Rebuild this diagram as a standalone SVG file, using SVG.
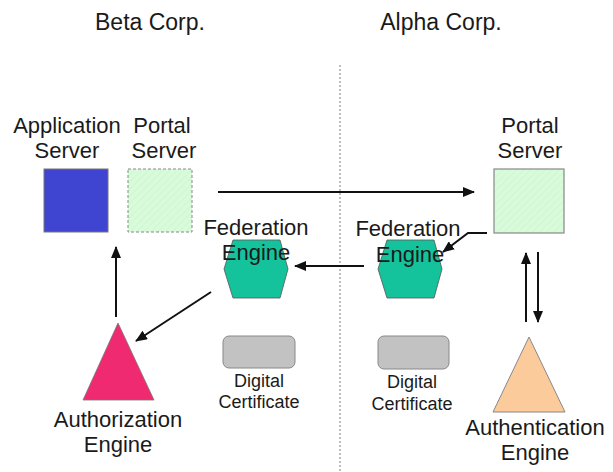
<svg xmlns="http://www.w3.org/2000/svg" width="613" height="472" viewBox="0 0 613 472">
<defs>
<style>
text{font-family:"Liberation Sans",Arial,sans-serif;fill:#1a1a1a;text-anchor:middle}
.lbl{font-size:22px}
.ttl{font-size:23px}
.sm{font-size:18px}
.conn{stroke:#111;stroke-width:2;fill:none;marker-end:url(#ah)}
</style>
<marker id="ah" viewBox="0 0 12 10" refX="11" refY="5" markerWidth="12" markerHeight="10" markerUnits="userSpaceOnUse" orient="auto">
<path d="M0,0 L12,5 L0,10 Z" fill="#111"/>
</marker>
<pattern id="hatch" width="5" height="5" patternUnits="userSpaceOnUse" patternTransform="rotate(45)">
<rect width="5" height="5" fill="#d8fbda"/>
<line x1="0" y1="0" x2="0" y2="5" stroke="#cbf1ce" stroke-width="1"/>
</pattern>
</defs>
<rect width="613" height="472" fill="#fff"/>
<line x1="340" y1="65" x2="340" y2="472" stroke="#aaa" stroke-width="1.5" stroke-dasharray="2,2"/>
<g id="beta-title"><text class="ttl" x="150" y="30">Beta Corp.</text></g>
<g id="alpha-title"><text class="ttl" x="441" y="30">Alpha Corp.</text></g>
<g id="app-server">
<text class="lbl" x="67" y="133">Application</text>
<text class="lbl" x="67" y="158">Server</text>
<rect x="44" y="169" width="64" height="63" fill="#3f45d0" stroke="#777" stroke-width="1"/>
</g>
<g id="portal-beta">
<text class="lbl" x="162" y="133">Portal</text>
<text class="lbl" x="164" y="158">Server</text>
<rect x="128" y="169" width="64" height="63" fill="url(#hatch)" stroke="#888" stroke-width="1" stroke-dasharray="3,2"/>
</g>
<g id="portal-alpha">
<text class="lbl" x="530" y="133">Portal</text>
<text class="lbl" x="530" y="158">Server</text>
<rect x="494" y="169" width="70" height="64" fill="url(#hatch)" stroke="#888" stroke-width="1.2"/>
</g>
<g id="fed-beta">
<polygon points="233,240 280,240 288,269 280,298 233,298 224,269" fill="#14c39c" stroke="#555" stroke-width="0.8"/>
<text class="lbl" x="256" y="235">Federation</text>
<text class="lbl" x="256" y="260">Engine</text>
</g>
<g id="fed-alpha">
<polygon points="387,240 434,240 442,269 434,298 387,298 378,269" fill="#14c39c" stroke="#555" stroke-width="0.8"/>
<text class="lbl" x="408" y="236">Federation</text>
<text class="lbl" x="410" y="262">Engine</text>
</g>
<g id="authz">
<polygon points="118,323 154,400 83,400" fill="#f02a70" stroke="#777" stroke-width="0.8"/>
<text class="lbl" x="118" y="427">Authorization</text>
<text class="lbl" x="118" y="452">Engine</text>
</g>
<g id="authn">
<polygon points="529,337 565,412 493,412" fill="#fccb9c" stroke="#888" stroke-width="1"/>
<text class="lbl" x="535" y="435">Authentication</text>
<text class="lbl" x="535" y="460">Engine</text>
</g>
<g id="cert-beta">
<rect x="223" y="336" width="72" height="32" rx="6" fill="#c2c2c2" stroke="#888" stroke-width="1"/>
<text class="sm" x="259" y="387">Digital</text>
<text class="sm" x="259" y="408">Certificate</text>
</g>
<g id="cert-alpha">
<rect x="378" y="336" width="71" height="33" rx="6" fill="#c2c2c2" stroke="#888" stroke-width="1"/>
<text class="sm" x="412" y="388">Digital</text>
<text class="sm" x="412" y="410">Certificate</text>
</g>
<g id="connectors">
<line class="conn" x1="218" y1="192" x2="474" y2="192"/>
<line class="conn" x1="364" y1="266" x2="295" y2="266"/>
<polyline class="conn" points="487,233 468,233 443,252"/>
<line class="conn" x1="526" y1="322" x2="526" y2="253"/>
<line class="conn" x1="538" y1="252" x2="538" y2="322"/>
<line class="conn" x1="116" y1="317" x2="116" y2="247"/>
<line class="conn" x1="211" y1="292" x2="136" y2="341"/>
</g>
</svg>
